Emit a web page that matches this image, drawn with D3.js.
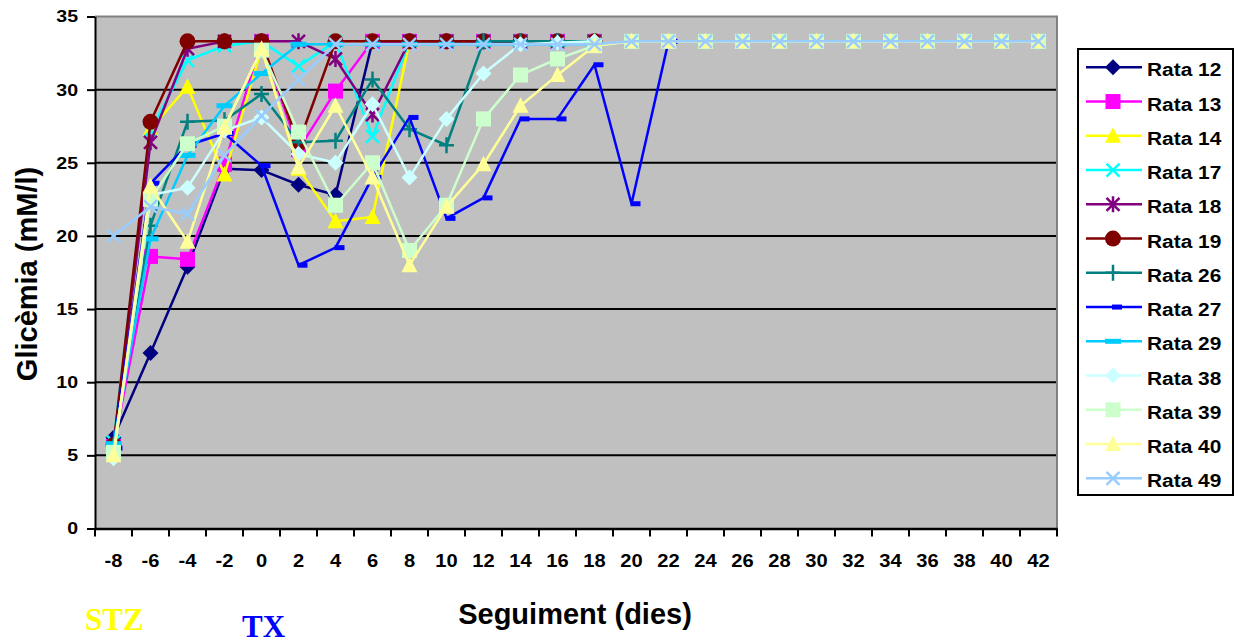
<!DOCTYPE html>
<html>
<head>
<meta charset="utf-8">
<script src="https://cdn.jsdelivr.net/npm/d3@7"></script>
<style>
  body { margin: 0; background: #fff; }
  svg { display: block; }
  text { font-family: "Liberation Sans", Arial, sans-serif; font-weight: bold; }
</style>
</head>
<body>
<div id="chart"></div>
<script>
// categories (days of follow-up) and y ticks
const days = [-8, -6, -4, -2, 0, 2, 4, 6, 8, 10, 12, 14, 16, 18, 20, 22, 24, 26, 28, 30, 32, 34, 36, 38, 40, 42];
const yTicks = [0, 5, 10, 15, 20, 25, 30, 35];

// glycaemia per rat (mM/l), starting at day -8
const rata12 = [6.2, 12.0, 17.9, 24.6, 24.5, 23.5, 22.8, 33.3, 33.3, 33.3, 33.3, 33.3, 33.3, 33.3];
const rata13 = [5.6, 18.6, 18.4, 24.9, 33.3, 25.9, 29.9, 33.3, 33.3, 33.3, 33.3, 33.3, 33.3, 33.3];
const rata14 = [5.3, 27.3, 30.2, 24.2, 32.8, 24.6, 21.0, 21.3, 33.3, 33.3, 33.3, 33.3, 33.3, 33.3];
const rata17 = [5.9, 27.2, 32.0, 33.0, 33.3, 31.6, 33.3, 26.8, 33.3, 33.3, 33.3, 33.3, 33.3, 33.3];
const rata18 = [5.6, 26.4, 32.8, 33.3, 33.3, 33.3, 32.1, 28.3, 33.3, 33.3, 33.3, 33.3, 33.3, 33.3];
const rata19 = [5.7, 27.8, 33.3, 33.3, 33.3, 26.3, 33.3, 33.3, 33.3, 33.3, 33.3, 33.3, 33.3, 33.3];
const rata26 = [5.6, 20.7, 27.8, 27.9, 29.7, 26.4, 26.5, 30.7, 27.3, 26.2, 33.3, 33.3, 33.3, 33.3];
const rata27 = [5.5, 23.6, 26.2, 27.0, 24.8, 18.0, 19.2, 24.0, 28.1, 21.2, 22.6, 28.0, 28.0, 31.7, 22.2, 33.3];
const rata29 = [5.8, 19.8, 25.5, 28.9, 31.1, 33.1, 33.1, 33.1, 33.1, 33.1, 33.1, 33.1, 33.1, 33.1];
const rata38 = [4.8, 22.8, 23.3, 27.2, 28.1, 25.6, 25.0, 29.0, 24.0, 28.0, 31.1, 33.1, 33.2, 33.3];
const rata39 = [5.2, 22.5, 26.3, 27.5, 32.7, 27.1, 22.1, 25.0, 19.0, 22.1, 28.0, 31.0, 32.1, 33.0,
                33.3, 33.3, 33.3, 33.3, 33.3, 33.3, 33.3, 33.3, 33.3, 33.3, 33.3, 33.3];
const rata40 = [5.0, 23.4, 19.6, 27.4, 32.8, 24.7, 28.9, 24.0, 18.0, 22.0, 24.9, 28.9, 31.0, 33.0,
                33.3, 33.3, 33.3, 33.3, 33.3, 33.3, 33.3, 33.3, 33.3, 33.3, 33.3, 33.3];
const rata49 = [20.0, 22.0, 21.5, 25.5, 28.2, 30.7, 33.1, 33.1, 33.1, 33.1, 33.1, 33.1, 33.1, 33.1,
                33.3, 33.3, 33.3, 33.3, 33.3, 33.3, 33.3, 33.3, 33.3, 33.3, 33.3, 33.3];

const seriesNames = ['Rata 12', 'Rata 13', 'Rata 14', 'Rata 17', 'Rata 18', 'Rata 19', 'Rata 26',
  'Rata 27', 'Rata 29', 'Rata 38', 'Rata 39', 'Rata 40', 'Rata 49'];
const seriesValues = [rata12, rata13, rata14, rata17, rata18, rata19, rata26,
  rata27, rata29, rata38, rata39, rata40, rata49];
const seriesColors = ['#000080', '#FF00FF', '#FFFF00', '#00FFFF', '#800080', '#800000', '#008080',
  '#0000FF', '#00CCFF', '#CCFFFF', '#CCFFCC', '#FFFF99', '#99CCFF'];
const seriesMarkers = ['diamond', 'square', 'triangle', 'x', 'star', 'circle', 'plus',
  'shortDash', 'dash', 'diamond', 'square', 'triangle', 'x'];

const width = 1241;
const height = 643;
const plot = { left: 95, right: 1057, top: 16.5, bottom: 528.5 };

const svg = d3.select('#chart').append('svg')
  .attr('width', width)
  .attr('height', height);

const x = d3.scaleBand()
  .domain(days)
  .range([plot.left, plot.right])
  .padding(0);

const y = d3.scaleLinear()
  .domain([0, 35])
  .range([plot.bottom, plot.top]);

// plot background
svg.append('rect')
  .attr('x', plot.left)
  .attr('y', plot.top)
  .attr('width', plot.right - plot.left)
  .attr('height', plot.bottom - plot.top)
  .attr('fill', '#C0C0C0');

// horizontal gridlines
svg.append('g')
  .selectAll('line')
  .data(yTicks.filter((t) => t > 0 && t < 35))
  .enter()
  .append('line')
  .attr('x1', plot.left)
  .attr('x2', plot.right)
  .attr('y1', (d) => y(d))
  .attr('y2', (d) => y(d))
  .attr('stroke', '#000')
  .attr('stroke-width', 2);

// plot area border (top + right)
svg.append('path')
  .attr('d', `M${plot.left},${plot.top}H${plot.right}V${plot.bottom}`)
  .attr('fill', 'none')
  .attr('stroke', '#808080')
  .attr('stroke-width', 2);

// marker shapes
function drawMarker(g, type, color) {
  switch (type) {
    case 'diamond':
      g.append('path').attr('d', 'M0,-8L8,0L0,8L-8,0Z').attr('fill', color);
      break;
    case 'square':
      g.append('rect').attr('x', -7.5).attr('y', -7.5).attr('width', 15).attr('height', 15).attr('fill', color);
      break;
    case 'triangle':
      g.append('path').attr('d', 'M0,-8.5L8,7L-8,7Z').attr('fill', color);
      break;
    case 'circle':
      g.append('circle').attr('r', 8).attr('fill', color);
      break;
    case 'x':
      g.append('path').attr('d', 'M-6.5,-6.5L6.5,6.5M-6.5,6.5L6.5,-6.5')
        .attr('stroke', color).attr('stroke-width', 2.5);
      break;
    case 'star':
      g.append('path').attr('d', 'M-6.5,-6.5L6.5,6.5M-6.5,6.5L6.5,-6.5M0,-8L0,8')
        .attr('stroke', color).attr('stroke-width', 2.5);
      break;
    case 'plus':
      g.append('path').attr('d', 'M-7.5,0L7.5,0M0,-8L0,8')
        .attr('stroke', color).attr('stroke-width', 2.5);
      break;
    case 'dash':
      g.append('rect').attr('x', -8).attr('y', -2.5).attr('width', 16).attr('height', 5).attr('fill', color);
      break;
    case 'shortDash':
      g.append('rect').attr('x', -1).attr('y', -2.5).attr('width', 10).attr('height', 5).attr('fill', color);
      break;
    default:
      break;
  }
}

const line = d3.line()
  .x((d) => x(d.day) + x.bandwidth() / 2)
  .y((d) => y(d.v));

// series: line then markers, in legend order
seriesValues.forEach((vals, i) => {
  const pts = vals.map((v, j) => ({ day: days[j], v }));
  const g = svg.append('g').attr('class', 'series');
  g.append('path')
    .datum(pts)
    .attr('d', line)
    .attr('fill', 'none')
    .attr('stroke', seriesColors[i])
    .attr('stroke-width', 2.5)
    .attr('stroke-linejoin', 'round');
  g.selectAll('.marker')
    .data(pts)
    .enter()
    .append('g')
    .attr('class', 'marker')
    .attr('transform', (d) => `translate(${x(d.day) + x.bandwidth() / 2},${y(d.v)})`)
    .each(function () { drawMarker(d3.select(this), seriesMarkers[i], seriesColors[i]); });
});

// y axis
const yAxis = svg.append('g')
  .attr('transform', `translate(${plot.left},0)`)
  .call(d3.axisLeft(y).tickValues(yTicks).tickSize(8).tickSizeOuter(0).tickPadding(9));
yAxis.select('.domain').attr('stroke', '#000').attr('stroke-width', 2);
yAxis.selectAll('.tick line').attr('stroke', '#000').attr('stroke-width', 2);
yAxis.selectAll('.tick text')
  .attr('font-size', 17)
  .attr('fill', '#000')
  .attr('x', -17 / 1.15)
  .attr('transform', 'scale(1.15,1)');

// x axis: labels at band centres, ticks on the band edges
const xAxis = svg.append('g')
  .attr('transform', `translate(0,${plot.bottom})`)
  .call(d3.axisBottom(x).tickSize(0).tickPadding(26).tickFormat((d) => d));
xAxis.select('.domain').attr('stroke', '#000').attr('stroke-width', 2.5);
xAxis.selectAll('.tick text')
  .attr('font-size', 17.5)
  .attr('fill', '#000')
  .attr('transform', 'scale(1.15,1)');

svg.append('g')
  .selectAll('line')
  .data(days.concat(['end']))
  .enter()
  .append('line')
  .attr('x1', (d) => (d === 'end' ? plot.right : x(d)))
  .attr('x2', (d) => (d === 'end' ? plot.right : x(d)))
  .attr('y1', plot.bottom)
  .attr('y2', plot.bottom + 8)
  .attr('stroke', '#000')
  .attr('stroke-width', 2);

// axis titles
svg.append('text')
  .attr('x', 575)
  .attr('y', 624)
  .attr('text-anchor', 'middle')
  .attr('font-size', 29)
  .text('Seguiment (dies)');

svg.append('text')
  .attr('transform', 'translate(37,274) rotate(-90)')
  .attr('text-anchor', 'middle')
  .attr('font-size', 29)
  .text('Glicèmia (mM/l)');

// STZ / TX annotations
svg.append('text')
  .attr('x', 85)
  .attr('y', 630)
  .style('font-family', '"Liberation Serif", "Times New Roman", serif')
  .attr('font-size', 31)
  .attr('fill', '#FFFF00')
  .text('STZ');

svg.append('text')
  .attr('x', 242)
  .attr('y', 637)
  .style('font-family', '"Liberation Serif", "Times New Roman", serif')
  .attr('font-size', 31)
  .attr('fill', '#0000FF')
  .text('TX');

// legend
const legend = svg.append('g').attr('class', 'legend');
legend.append('rect')
  .attr('x', 1078)
  .attr('y', 49)
  .attr('width', 155)
  .attr('height', 446)
  .attr('fill', '#fff')
  .attr('stroke', '#000')
  .attr('stroke-width', 2);

const legendItems = legend.selectAll('.legend-item')
  .data(seriesNames)
  .enter()
  .append('g')
  .attr('class', 'legend-item')
  .attr('transform', (d, i) => `translate(0,${67.3 + i * 34.25})`);

legendItems.append('line')
  .attr('x1', 1086)
  .attr('x2', 1142)
  .attr('stroke', (d, i) => seriesColors[i])
  .attr('stroke-width', 2.5);

legendItems.append('g')
  .attr('transform', 'translate(1113,0)')
  .each(function (d, i) { drawMarker(d3.select(this), seriesMarkers[i], seriesColors[i]); });

legendItems.append('text')
  .attr('x', 1147 / 1.13)
  .attr('y', 9)
  .attr('font-size', 18.5)
  .attr('transform', 'scale(1.13,1)')
  .text((d) => d);
</script>
</body>
</html>
